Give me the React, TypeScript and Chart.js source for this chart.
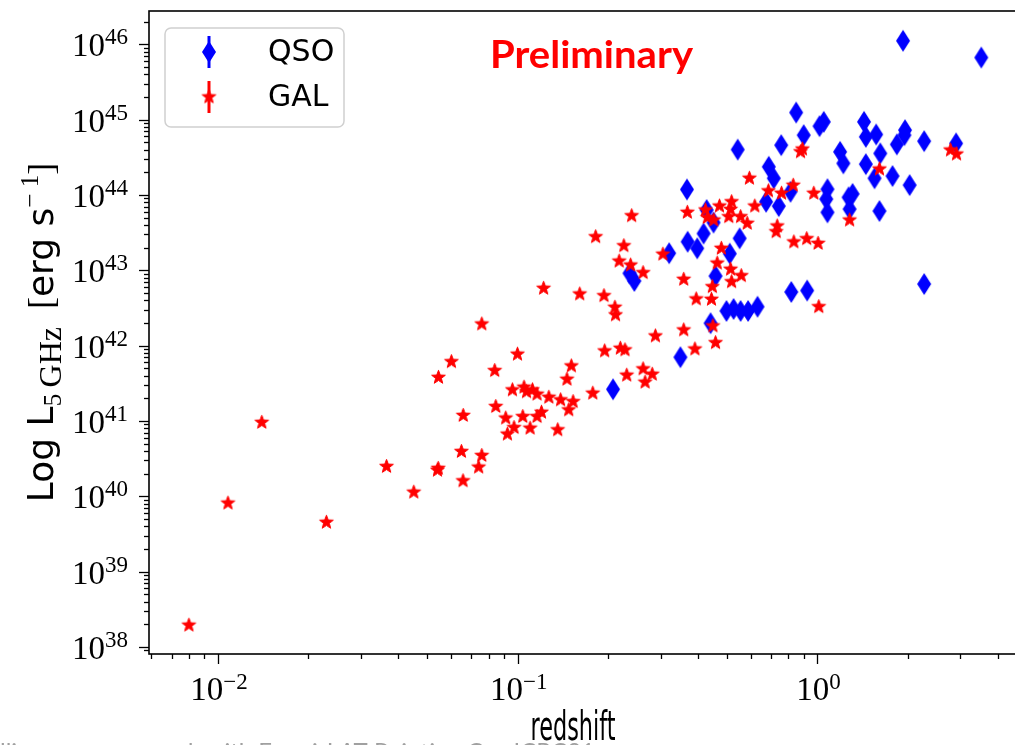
import React, { useEffect, useRef } from 'react';
import { Chart, registerables } from 'chart.js';

Chart.register(...registerables);

// ---------------- data ----------------
const SERIES_LABELS = ['QSO', 'GAL'];

const QSO_Z = [
  1.93, 3.52, 0.849, 1.05, 1.016, 1.43, 1.45, 1.57, 1.96, 1.95,
  2.27, 2.9, 1.84, 1.62, 0.9, 0.757, 0.542, 1.19, 1.22, 1.45,
  0.688, 0.715, 1.55, 1.78, 2.03, 0.367, 0.813, 1.08, 1.07, 1.08,
  1.27, 1.31, 1.28, 0.674, 0.743, 1.61, 0.427, 0.45, 0.417, 0.369,
  0.397, 0.55, 0.32, 0.51, 0.236, 0.245, 0.457, 0.497, 0.525, 0.554,
  0.587, 0.631, 0.44, 0.349, 0.208, 0.818, 0.924, 2.27,
];
const QSO_L = [
  1.11e46, 6.66e45, 1.24e45, 9.32e44, 8.17e44, 9.32e44, 5.9e44, 6.34e44, 7.23e44, 6.21e44,
  5.17e44, 4.82e44, 4.68e44, 3.55e44, 6.21e44, 4.57e44, 3.99e44, 3.73e44, 2.62e44, 2.56e44,
  2.36e44, 1.66e44, 1.66e44, 1.78e44, 1.35e44, 1.18e44, 1.1e44, 1.19e44, 8.8e43, 5.86e43,
  9.27e43, 1.03e44, 6.48e43, 8.1e43, 7.1e43, 6.1e43, 6.29e43, 4.3e43, 3.07e43, 2.39e43,
  1.95e43, 2.65e43, 1.68e43, 1.66e43, 9.1e42, 7.2e42, 8.38e42, 2.88e42, 3.06e42, 2.88e42,
  2.88e42, 3.28e42, 1.98e42, 7.0e41, 2.63e41, 5.14e42, 5.38e42, 6.56e42,
];

const GAL_Z = [
  0.008, 0.0108, 0.014, 0.023, 0.0365, 0.045, 0.054, 0.0543, 0.0544, 0.0601,
  0.0657, 0.0649, 0.0658, 0.0741, 0.0759, 0.0759, 0.0838, 0.0845, 0.0912, 0.0924,
  0.096, 0.0972, 0.0998, 0.104, 0.105, 0.107, 0.11, 0.112, 0.116, 0.116,
  0.12, 0.122, 0.127, 0.136, 0.139, 0.146, 0.148, 0.151, 0.153, 0.161,
  0.178, 0.182, 0.194, 0.195, 0.211, 0.212, 0.218, 0.22, 0.228, 0.226,
  0.231, 0.238, 0.24, 0.262, 0.262, 0.266, 0.281, 0.288, 0.305, 0.358,
  0.358, 0.368, 0.39, 0.394, 0.423, 0.443, 0.446, 0.448, 0.451, 0.457,
  0.463, 0.471, 0.478, 0.506, 0.513, 0.517, 0.513, 0.517, 0.557, 0.554,
  0.583, 0.593, 0.618, 0.686, 0.734, 0.728, 0.759, 0.83, 0.834, 0.878,
  0.891, 0.921, 0.972, 1.005, 1.01, 1.28, 1.61, 2.78, 2.91, 0.429,
];
const GAL_L = [
  1.94e38, 8.1e39, 9.55e40, 4.5e39, 2.48e40, 1.13e40, 2.21e40, 2.34e40, 3.78e41, 6.1e41,
  1.6e40, 3.92e40, 1.18e41, 2.43e40, 3.47e40, 1.93e42, 4.65e41, 1.55e41, 1.09e41, 6.67e40,
  2.58e41, 8.15e40, 7.67e41, 1.14e41, 2.8e41, 2.43e41, 8.0e40, 2.58e41, 2.26e41, 1.14e41,
  1.3e41, 5.75e42, 2.06e41, 7.6e40, 1.9e41, 3.57e41, 1.4e41, 5.36e41, 1.8e41, 4.83e42,
  2.33e41, 2.78e43, 4.59e42, 8.48e41, 3.22e42, 2.55e42, 1.32e43, 9.2e41, 8.75e41, 2.11e43,
  4.04e41, 1.17e43, 5.28e43, 9.27e42, 4.9e41, 3.26e41, 4.16e41, 1.34e42, 1.63e43, 1.61e42,
  7.57e42, 5.86e43, 9.0e41, 4.15e42, 6.29e43, 4.11e42, 6.04e42, 1.82e42, 4.63e43, 1.09e42,
  1.24e43, 7.1e43, 1.95e43, 5.13e43, 6.42e43, 8.1e43, 1.03e43, 7.03e42, 8.45e42, 5.13e43,
  4.19e43, 1.66e44, 7.1e43, 1.13e44, 3.86e43, 3.24e43, 1.05e44, 1.34e44, 2.37e43, 3.73e44,
  4.05e44, 2.62e43, 1.05e44, 2.27e43, 3.28e42, 4.63e43, 2.2e44, 3.93e44, 3.48e44, 5.0e43,
];

const X_MIN = 0.005888;
const X_MAX = 4.887;
const Y_MIN = 8.05e37;
const Y_MAX = 2.76e46;
const X_TICK_EXPONENTS = [-2, -1, 0];
const Y_TICK_EXPONENTS = [38, 39, 40, 41, 42, 43, 44, 45, 46];
const MINOR_MULTIPLIERS = [2, 3, 4, 5, 6, 7, 8, 9];
const X_TITLE = 'redshift';
const WATERMARK = 'Preliminary';
const FOOTER = 'lliances  compared  with Fermi-LAT Pointing Ca   ICRC21';

const BLUE = '#0000ff';
const RED = '#ff0000';

// ---------------- markers ----------------
function makeDiamond(color: string) {
  const c = document.createElement('canvas');
  c.width = 16;
  c.height = 24;
  const g = c.getContext('2d')!;
  g.beginPath();
  g.moveTo(8, 1);
  g.lineTo(15, 12);
  g.lineTo(8, 23);
  g.lineTo(1, 12);
  g.closePath();
  g.fillStyle = color;
  g.fill();
  return c;
}

function makeStar(color: string, R: number) {
  const size = Math.ceil(R * 2 + 4);
  const c = document.createElement('canvas');
  c.width = size;
  c.height = size;
  const g = c.getContext('2d')!;
  const cx = size / 2;
  const cy = size / 2;
  const r = R * 0.42;
  g.beginPath();
  for (let k = 0; k < 10; k++) {
    const ang = -Math.PI / 2 + (k * Math.PI) / 5;
    const rr = k % 2 === 0 ? R : r;
    const px = cx + rr * Math.cos(ang);
    const py = cy + rr * Math.sin(ang);
    if (k === 0) g.moveTo(px, py);
    else g.lineTo(px, py);
  }
  g.closePath();
  g.fillStyle = color;
  g.fill();
  g.strokeStyle = color;
  g.lineWidth = 1;
  g.lineJoin = 'round';
  g.stroke();
  return c;
}

// ---------------- helpers ----------------
const SERIF = '"Liberation Serif", "DejaVu Serif", serif';
const SANS = '"DejaVu Sans", sans-serif';

function drawPow(
  ctx: CanvasRenderingContext2D,
  exp: number,
  x: number,
  y: number,
  align: 'right' | 'center',
  raise: number
) {
  const base = '10';
  const ex = exp < 0 ? '\u2212' + Math.abs(exp) : String(exp);
  ctx.font = `33px ${SERIF}`;
  const wb = ctx.measureText(base).width;
  ctx.font = `23px ${SERIF}`;
  const we = ctx.measureText(ex).width;
  const total = wb + we;
  const x0 = align === 'right' ? x - total : x - total / 2;
  ctx.textAlign = 'left';
  ctx.textBaseline = 'alphabetic';
  ctx.font = `33px ${SERIF}`;
  ctx.fillText(base, x0, y);
  ctx.font = `23px ${SERIF}`;
  ctx.fillText(ex, x0 + wb, y - raise);
}

function roundRect(ctx: CanvasRenderingContext2D, x: number, y: number, w: number, h: number, r: number) {
  ctx.beginPath();
  ctx.moveTo(x + r, y);
  ctx.lineTo(x + w - r, y);
  ctx.arcTo(x + w, y, x + w, y + r, r);
  ctx.lineTo(x + w, y + h - r);
  ctx.arcTo(x + w, y + h, x + w - r, y + h, r);
  ctx.lineTo(x + r, y + h);
  ctx.arcTo(x, y + h, x, y + h - r, r);
  ctx.lineTo(x, y + r);
  ctx.arcTo(x, y, x + r, y, r);
  ctx.closePath();
}

function makeDecorPlugin(diamond: HTMLCanvasElement, star: HTMLCanvasElement) {
  return {
    id: 'decor',
    afterDraw(chart: any) {
      const ctx: CanvasRenderingContext2D = chart.ctx;
      const a = chart.chartArea;
      const xs = chart.scales.x;
      const ys = chart.scales.y;
      ctx.save();

      // frame
      ctx.strokeStyle = '#000';
      ctx.lineWidth = 1.6;
      ctx.strokeRect(a.left, a.top, a.right - a.left, a.bottom - a.top);

      // x ticks
      ctx.lineWidth = 1.3;
      for (let e = Math.floor(Math.log10(X_MIN)); e <= Math.ceil(Math.log10(X_MAX)); e++) {
        for (const m of [1, ...MINOR_MULTIPLIERS]) {
          const v = m * Math.pow(10, e);
          if (v < X_MIN || v > X_MAX) continue;
          const px = Math.round(xs.getPixelForValue(v)) + 0.5;
          const len = m === 1 ? 10 : 5;
          ctx.beginPath();
          ctx.moveTo(px, a.bottom);
          ctx.lineTo(px, a.bottom + len);
          ctx.stroke();
        }
      }
      // y ticks
      for (let e = Math.floor(Math.log10(Y_MIN)); e <= Math.ceil(Math.log10(Y_MAX)); e++) {
        for (const m of [1, ...MINOR_MULTIPLIERS]) {
          const v = m * Math.pow(10, e);
          if (v < Y_MIN || v > Y_MAX) continue;
          const py = Math.round(ys.getPixelForValue(v)) + 0.5;
          const len = m === 1 ? 10 : 5;
          ctx.beginPath();
          ctx.moveTo(a.left, py);
          ctx.lineTo(a.left - len, py);
          ctx.stroke();
        }
      }

      // tick labels
      ctx.fillStyle = '#000';
      for (const e of X_TICK_EXPONENTS) {
        const px = xs.getPixelForValue(Math.pow(10, e));
        drawPow(ctx, e, px + 1, a.bottom + 46, 'center', 11);
      }
      for (const e of Y_TICK_EXPONENTS) {
        const py = ys.getPixelForValue(Math.pow(10, e));
        drawPow(ctx, e, a.left - 21, py + 12, 'right', 12);
      }

      // x title (condensed)
      ctx.save();
      ctx.font = `40px ${SANS}`;
      ctx.textAlign = 'center';
      ctx.textBaseline = 'alphabetic';
      ctx.translate(573, 740);
      ctx.scale(0.56, 1);
      ctx.fillText(X_TITLE, 0, 0);
      ctx.restore();

      // y title (mixed fonts)
      const segs = [
        { t: 'Log L', f: `36px ${SANS}`, dy: 0 },
        { t: '5', f: `25px ${SERIF}`, dy: 8 },
        { t: '\u2009GHz', f: `32px ${SERIF}`, dy: 8 },
        { t: '  [', f: `36px ${SERIF}`, dy: 0 },
        { t: 'erg s', f: `36px ${SANS}`, dy: 0 },
        { t: '\u2212 1', f: `25px ${SERIF}`, dy: -15 },
        { t: ']', f: `36px ${SERIF}`, dy: 0 },
      ];
      let total = 0;
      const widths: number[] = [];
      for (const s of segs) {
        ctx.font = s.f;
        const w = ctx.measureText(s.t).width;
        widths.push(w);
        total += w;
      }
      ctx.save();
      ctx.translate(53, (a.top + a.bottom) / 2);
      ctx.rotate(-Math.PI / 2);
      ctx.textAlign = 'left';
      ctx.textBaseline = 'alphabetic';
      let cx = -total / 2;
      segs.forEach((s, i) => {
        ctx.font = s.f;
        ctx.fillText(s.t, cx, s.dy);
        cx += widths[i];
      });
      ctx.restore();

      // legend
      const lx = 165, ly = 28, lw = 179, lh = 99;
      roundRect(ctx, lx, ly, lw, lh, 6);
      ctx.fillStyle = 'rgba(255,255,255,0.85)';
      ctx.fill();
      ctx.strokeStyle = '#d0d0d0';
      ctx.lineWidth = 1.5;
      ctx.stroke();
      const handles = [
        { img: diamond, color: BLUE, y: 52, label: SERIES_LABELS[0] },
        { img: star, color: RED, y: 97, label: SERIES_LABELS[1] },
      ];
      for (const h of handles) {
        ctx.strokeStyle = h.color;
        ctx.lineWidth = 3;
        ctx.beginPath();
        ctx.moveTo(209, h.y - 16);
        ctx.lineTo(209, h.y + 16);
        ctx.stroke();
        ctx.drawImage(h.img, 209 - h.img.width / 2, h.y - h.img.height / 2);
        ctx.fillStyle = '#000';
        ctx.font = `30px ${SANS}`;
        ctx.textAlign = 'left';
        ctx.textBaseline = 'middle';
        ctx.fillText(h.label, 268, h.y + 1);
      }

      // watermark
      ctx.fillStyle = RED;
      ctx.font = `bold 38px Lato, "Open Sans", sans-serif`;
      ctx.textAlign = 'left';
      ctx.textBaseline = 'alphabetic';
      const ww = ctx.measureText(WATERMARK).width;
      ctx.save();
      ctx.translate(490, 68);
      ctx.scale(203 / ww, 1);
      ctx.fillText(WATERMARK, 0, 0);
      ctx.restore();

      // cropped slide footer
      ctx.fillStyle = '#a0a0a0';
      ctx.font = `24px Lato, "Open Sans", sans-serif`;
      ctx.fillText(FOOTER, 0, 760);

      ctx.restore();
    },
  };
}

export default function App() {
  const ref = useRef<HTMLCanvasElement>(null);
  useEffect(() => {
    const diamond = makeDiamond(BLUE);
    const star = makeStar(RED, 7.2);
    const qso = QSO_Z.map((z, i) => ({ x: z, y: QSO_L[i] }));
    const gal = GAL_Z.map((z, i) => ({ x: z, y: GAL_L[i] }));
    const chart = new Chart(ref.current!, {
      type: 'scatter',
      data: {
        datasets: [
          {
            label: SERIES_LABELS[0],
            data: qso,
            pointStyle: diamond as any,
            pointRadius: 8,
            backgroundColor: BLUE,
            borderColor: BLUE,
            order: 1,
          },
          {
            label: SERIES_LABELS[1],
            data: gal,
            pointStyle: star as any,
            pointRadius: 7,
            backgroundColor: RED,
            borderColor: RED,
            order: 0,
          },
        ],
      },
      options: {
        animation: false,
        responsive: false,
        devicePixelRatio: 1,
        layout: { padding: { left: 149, top: 11, right: 16, bottom: 91 } },
        scales: {
          x: { type: 'logarithmic', min: X_MIN, max: X_MAX, display: false },
          y: { type: 'logarithmic', min: Y_MIN, max: Y_MAX, display: false },
        },
        plugins: { legend: { display: false }, tooltip: { enabled: false } },
      },
      plugins: [makeDecorPlugin(diamond, star)],
    } as any);
    return () => chart.destroy();
  }, []);
  return (
    <div
      style={{
        position: 'fixed',
        left: 0,
        top: 0,
        width: 1015,
        height: 745,
        overflow: 'hidden',
        background: '#fff',
      }}
    >
      <canvas ref={ref} width={1040} height={745} style={{ display: 'block', width: 1040, height: 745 }} />
    </div>
  );
}
